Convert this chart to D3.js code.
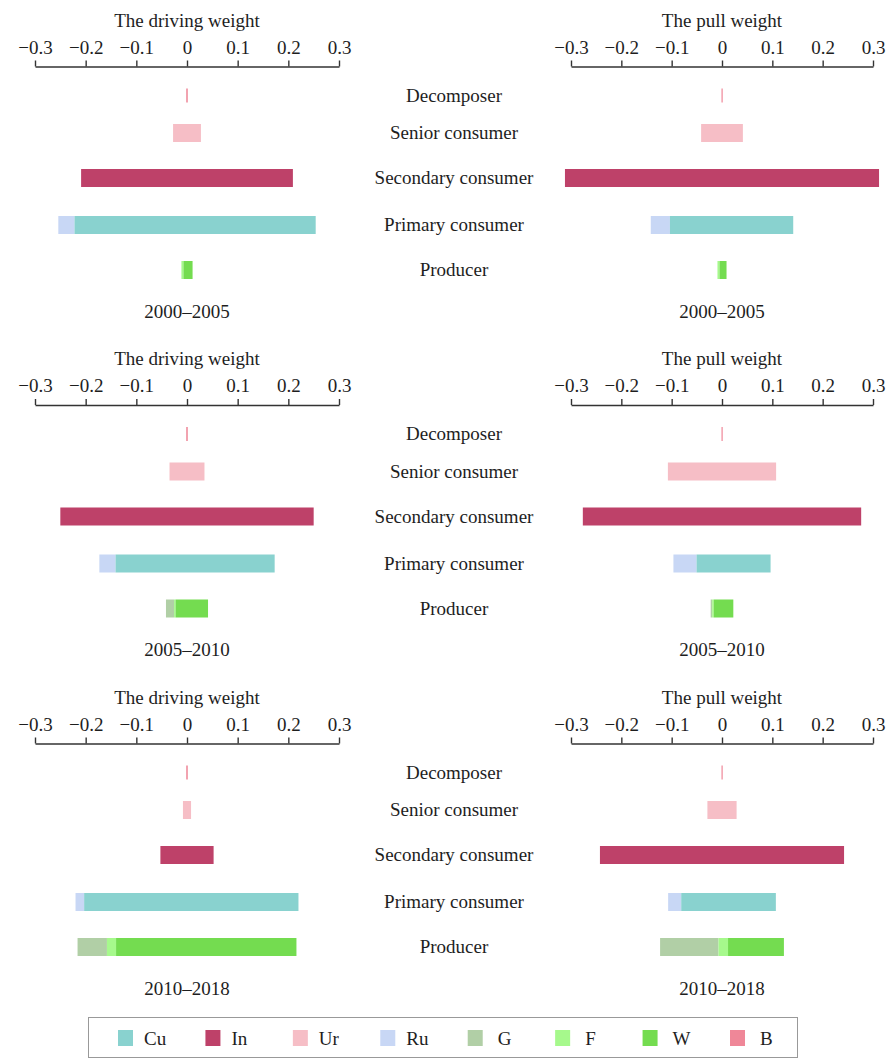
<!DOCTYPE html>
<html>
<head>
<meta charset="utf-8">
<script src="https://cdn.jsdelivr.net/npm/d3@7/dist/d3.min.js"></script>
<style>
  html, body { margin: 0; padding: 0; background: #fff; }
  svg { display: block; }
  svg text { font-family: "Liberation Serif", "Times New Roman", serif; }
</style>
</head>
<body>
<svg id="chart" width="889" height="1061"></svg>
<script>
// Trophic levels, top to bottom
const levels = ["Decomposer", "Senior consumer", "Secondary consumer", "Primary consumer", "Producer"];
const periods = ["2000–2005", "2005–2010", "2010–2018"];
const seriesKeys = ["Cu", "In", "Ur", "Ru", "G", "F", "W", "B"];
const seriesColors = ["#89d2cf", "#be4169", "#f6bec6", "#c8d7f5", "#b1cfa6", "#a6f98c", "#74dc50", "#ef8798"];
const tickValues = [-0.3, -0.2, -0.1, 0, 0.1, 0.2, 0.3];

// Which series make up each level's bar (stacked left to right)
const levelParts = [["B"], ["Ur"], ["In"], ["Ru", "Cu"], ["G", "F", "W"]];

// Driving weight per period
const driveB  = [0.003, 0.003, 0.003];
const driveUr = [0.055, 0.069, 0.016];
const driveIn = [0.418, 0.500, 0.105];
const driveRu = [0.032, 0.032, 0.017];
const driveCu = [0.476, 0.314, 0.423];
const driveG  = [0.000, 0.016, 0.058];
const driveF  = [0.004, 0.003, 0.018];
const driveW  = [0.018, 0.064, 0.356];

// Pull weight per period
const pullB  = [0.002, 0.002, 0.002];
const pullUr = [0.083, 0.215, 0.058];
const pullIn = [0.624, 0.553, 0.485];
const pullRu = [0.038, 0.046, 0.026];
const pullCu = [0.245, 0.147, 0.188];
const pullG  = [0.000, 0.003, 0.116];
const pullF  = [0.004, 0.003, 0.019];
const pullW  = [0.014, 0.039, 0.111];

const driveSeries = { B: driveB, Ur: driveUr, In: driveIn, Ru: driveRu, Cu: driveCu, G: driveG, F: driveF, W: driveW };
const pullSeries  = { B: pullB,  Ur: pullUr,  In: pullIn,  Ru: pullRu,  Cu: pullCu,  G: pullG,  F: pullF,  W: pullW };

const color = d3.scaleOrdinal(seriesKeys, seriesColors);

const FONT = "Liberation Serif, Times New Roman, serif";
const FS = 19;
const TEXT = "#1e1e1e";

const svg = d3.select("#chart").attr("font-family", FONT);

// Layout
const panelStep = 338.5;
const axisY = 66.5;
const rowY = d3.scaleOrdinal(levels, [95.5, 133, 178, 225, 270]);
const barH = 18;
const sides = [
  { title: "The driving weight", series: driveSeries, x: d3.scaleLinear([-0.3, 0.3], [35, 339]) },
  { title: "The pull weight",    series: pullSeries,  x: d3.scaleLinear([-0.3, 0.3], [571, 873]) }
];
const labelX = 454;
const fmt = d => d === 0 ? "0" : d3.format(".1f")(d);

periods.forEach((period, p) => {
  const g = svg.append("g").attr("transform", `translate(0,${p * panelStep})`);

  sides.forEach(side => {
    const x = side.x;
    const cx = x(0);

    // Panel title
    g.append("text")
      .attr("x", cx).attr("y", axisY - 40)
      .attr("text-anchor", "middle")
      .attr("font-family", FONT)
      .attr("font-size", FS).attr("fill", TEXT)
      .text(side.title);

    // Axis along the top of the bars
    const ax = g.append("g")
      .attr("transform", `translate(0,${axisY})`)
      .call(d3.axisTop(x).tickValues(tickValues).tickFormat(fmt)
        .tickSize(6).tickSizeOuter(0).tickPadding(7))
      .attr("font-family", FONT)
      .attr("font-size", FS);
    ax.select(".domain").attr("stroke", "#333").attr("stroke-width", 1.4);
    ax.selectAll(".tick line").attr("stroke", "#333").attr("stroke-width", 1.4);
    ax.selectAll(".tick text")
      .attr("font-family", FONT)
      .attr("font-size", FS).attr("fill", TEXT);

    // Bars: each level is centred on zero, parts stacked left to right
    levels.forEach((lvl, i) => {
      const parts = levelParts[i].map(k => ({ key: k, value: side.series[k][p] }));
      const total = d3.sum(parts, d => d.value);
      let start = -total / 2;
      parts.forEach(d => { d.x0 = start; d.x1 = start + d.value; start = d.x1; });
      const h = lvl === "Decomposer" ? 14 : barH;
      g.selectAll(null)
        .data(parts.filter(d => d.value > 0))
        .join("rect")
        .attr("x", d => x(d.x0))
        .attr("width", d => Math.max(1.2, x(d.x1) - x(d.x0)))
        .attr("y", rowY(lvl) - h / 2)
        .attr("height", h)
        .attr("fill", d => color(d.key));
    });

    // Period label under the panel
    g.append("text")
      .attr("x", cx).attr("y", axisY + 251)
      .attr("text-anchor", "middle")
      .attr("font-family", FONT)
      .attr("font-size", FS).attr("fill", TEXT)
      .text(period);
  });

  // Level names between the two halves
  g.selectAll(null)
    .data(levels)
    .join("text")
    .attr("x", labelX)
    .attr("y", d => rowY(d))
    .attr("dy", "0.33em")
    .attr("text-anchor", "middle")
    .attr("font-family", FONT)
    .attr("font-size", FS).attr("fill", TEXT)
    .text(d => d);
});

// Legend
const legend = svg.append("g");
legend.append("rect")
  .attr("x", 88.5).attr("y", 1017.5)
  .attr("width", 709).attr("height", 40)
  .attr("fill", "none").attr("stroke", "#999").attr("stroke-width", 1);

const legendX = d3.scalePoint(seriesKeys, [118, 730]);
const item = legend.selectAll("g.item")
  .data(seriesKeys)
  .join("g")
  .attr("class", "item")
  .attr("transform", d => `translate(${legendX(d)},1038)`);
item.append("rect")
  .attr("x", 0).attr("y", -8)
  .attr("width", 15).attr("height", 16)
  .attr("fill", d => color(d));
item.append("text")
  .attr("x", d => ["G", "F", "W", "B"].includes(d) ? 30 : 26)
  .attr("dy", "0.35em")
  .attr("font-family", FONT)
  .attr("font-size", FS).attr("fill", TEXT)
  .text(d => d);
</script>
</body>
</html>
